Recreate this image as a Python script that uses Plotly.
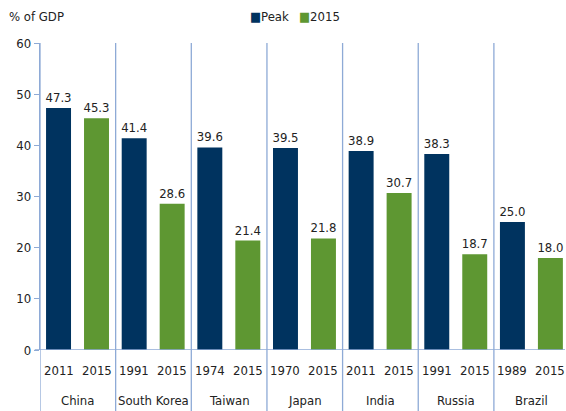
import plotly.graph_objects as go

countries = ["China", "South Korea", "Taiwan", "Japan", "India", "Russia", "Brazil"]
peak_years = ["2011", "1991", "1974", "1970", "2011", "1991", "1989"]
recent_years = ["2015", "2015", "2015", "2015", "2015", "2015", "2015"]
peak_values = [47.3, 41.4, 39.6, 39.5, 38.9, 38.3, 25.0]
values_2015 = [45.3, 28.6, 21.4, 21.8, 30.7, 18.7, 18.0]
series_names = ["Peak", "2015"]
y_ticks = [0, 10, 20, 30, 40, 50, 60]

NAVY = "#00335f"
GREEN = "#5e9732"
LINE = "#8eaad6"
TXT = "#222222"
FONT = "DejaVu Sans Condensed, Liberation Sans Narrow, Roboto, sans-serif"
FS = 13

n = len(countries)
off_a, off_b, bw = 0.245, 0.747, 0.33
xa = [i + off_a for i in range(n)]
xb = [i + off_b for i in range(n)]

fig = go.Figure()
fig.add_bar(x=xa, y=peak_values, width=bw, marker=dict(color=NAVY, line=dict(width=0)),
            text=[f"{v:.1f}" for v in peak_values], textposition="outside", constraintext="none",
            textfont=dict(color=TXT, size=FS, family=FONT), cliponaxis=False,
            name=series_names[0], showlegend=False, hoverinfo="skip")
fig.add_bar(x=xb, y=values_2015, width=bw, marker=dict(color=GREEN, line=dict(width=0)),
            text=[f"{v:.1f}" for v in values_2015], textposition="outside", constraintext="none",
            textfont=dict(color=TXT, size=FS, family=FONT), cliponaxis=False,
            name=series_names[1], showlegend=False, hoverinfo="skip")

shapes = []
for i in range(n):
    shapes.append(dict(type="line", xref="x", yref="paper", x0=i, x1=i, y0=-0.25, y1=1.0,
                       line=dict(color=LINE, width=1.3)))
shapes.append(dict(type="line", xref="paper", yref="y", x0=-0.01, x1=1.0, y0=0, y1=0,
                   line=dict(color=LINE, width=1.3)))

ann = []
for i in range(n):
    ann.append(dict(x=xa[i], y=-0.066, xref="x", yref="paper", text=peak_years[i], showarrow=False,
                    yanchor="middle", font=dict(size=FS, color=TXT, family=FONT)))
    ann.append(dict(x=xb[i], y=-0.066, xref="x", yref="paper", text=recent_years[i], showarrow=False,
                    yanchor="middle", font=dict(size=FS, color=TXT, family=FONT)))
    ann.append(dict(x=i + 0.5, y=-0.163, xref="x", yref="paper", text=countries[i], showarrow=False,
                    yanchor="middle", font=dict(size=FS, color=TXT, family=FONT)))

ann.append(dict(x=-0.062, y=1.085, xref="paper", yref="paper", text="% of GDP", showarrow=False,
                xanchor="left", yanchor="middle", font=dict(size=FS, color=TXT, family=FONT)))
ann.append(dict(x=0.396, y=1.085, xref="paper", yref="paper",
                text=f'<span style="color:{NAVY}">■</span>{series_names[0]}', showarrow=False,
                xanchor="left", yanchor="middle", font=dict(size=FS, color=TXT, family=FONT)))
ann.append(dict(x=0.49, y=1.085, xref="paper", yref="paper",
                text=f'<span style="color:{GREEN}">■</span>{series_names[1]}', showarrow=False,
                xanchor="left", yanchor="middle", font=dict(size=FS, color=TXT, family=FONT)))

fig.update_layout(
    width=566, height=411,
    margin=dict(l=40, r=1, t=43, b=61),
    plot_bgcolor="white", paper_bgcolor="white",
    font=dict(family=FONT, size=FS, color=TXT),
    barmode="overlay", hovermode=False,
    shapes=shapes, annotations=ann,
    xaxis=dict(range=[0, 6.94], showticklabels=False, showgrid=False, zeroline=False,
               showline=False, ticks=""),
    yaxis=dict(range=[0, 60], tickvals=y_ticks, showgrid=False, zeroline=False,
               showline=True, linecolor=LINE, linewidth=1.3, ticks="outside", ticklen=5,
               tickcolor=LINE, tickwidth=1.3, tickfont=dict(size=FS, color=TXT, family=FONT)),
)

fig.write_html("out.html", config={"displayModeBar": False},
               post_script="document.body.style.margin='0';document.body.style.overflow='hidden';")
